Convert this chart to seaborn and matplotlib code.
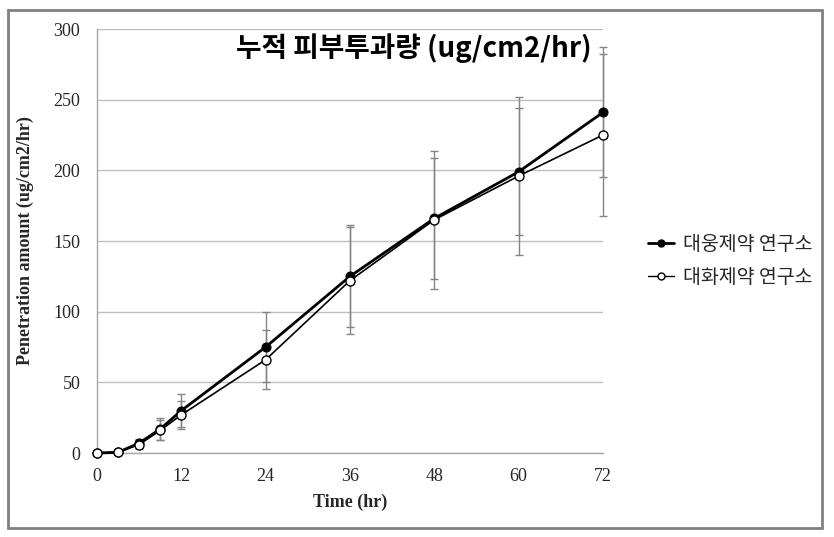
import matplotlib
matplotlib.use("Agg")
import matplotlib.pyplot as plt
import seaborn as sns
import pandas as pd
from matplotlib.patches import Rectangle
from matplotlib.lines import Line2D

# ---- data ----
time_hr = [0, 3, 6, 9, 12, 24, 36, 48, 60, 72]
series_names = ["대웅제약 연구소", "대화제약 연구소"]
daewoong = [0, 0.5, 7, 17, 30, 75, 125, 166, 199, 241]
daewoong_err = [0, 0, 3, 8, 11.5, 25, 36, 43, 45, 46]
daehwa = [0, 0.5, 6, 16, 27, 66, 122, 165, 196, 225]
daehwa_err = [0, 0, 3, 7, 10, 21, 38, 49, 56, 57]
x_ticks = [0, 12, 24, 36, 48, 60, 72]
y_ticks = [0, 50, 100, 150, 200, 250, 300]
title = "누적 피부투과량 (ug/cm2/hr)"
x_label = "Time (hr)"
y_label = "Penetration amount (ug/cm2/hr)"

df = pd.DataFrame({
    "time": time_hr * 2,
    "value": daewoong + daehwa,
    "err": daewoong_err + daehwa_err,
    "series": [series_names[0]] * len(time_hr) + [series_names[1]] * len(time_hr),
})

sns.set_theme(style="white")
plt.rcParams["font.family"] = ["Liberation Serif", "DejaVu Serif"]

W, H = 834, 537
fig = plt.figure(figsize=(W / 100, H / 100), dpi=100)
ax = fig.add_axes([97 / W, 1 - 453 / H, (603 - 97) / W, (453 - 29) / H])

# error bars
for name in series_names:
    sub = df[df["series"] == name]
    eb = ax.errorbar(sub["time"], sub["value"], yerr=sub["err"], fmt="none",
                     ecolor="#858585", elinewidth=1.0, capsize=3, capthick=1.0, zorder=2)
    for art in eb.get_children():
        art.set_clip_on(False)

d1 = df[df["series"] == series_names[0]]
d2 = df[df["series"] == series_names[1]]
sns.lineplot(data=d1, x="time", y="value", ax=ax, color="black", lw=2.0,
             marker="o", markersize=6.5, markerfacecolor="black",
             markeredgecolor="black", zorder=3, legend=False, clip_on=False)
sns.lineplot(data=d2, x="time", y="value", ax=ax, color="black", lw=1.2,
             marker="o", markersize=6.5, markerfacecolor="white",
             markeredgecolor="black", markeredgewidth=1.0, zorder=4, legend=False,
             clip_on=False)

ax.set_xlim(0, 72)
ax.set_ylim(0, 300)
ax.set_xticks(x_ticks)
ax.set_yticks(y_ticks)
ax.yaxis.grid(True, color="#bfbfbf", lw=1.0)
ax.xaxis.grid(False)
for s in ["top", "right"]:
    ax.spines[s].set_visible(False)
for s in ["left", "bottom"]:
    ax.spines[s].set_color("#a6a6a6")
    ax.spines[s].set_linewidth(1.0)
ax.tick_params(axis="both", which="major", length=3, width=1, color="#a6a6a6",
               labelsize=13, labelcolor="#262626", direction="out")
ax.tick_params(axis="y", pad=9)
ax.tick_params(axis="x", pad=8)
ax.set_axisbelow(True)

ax.set_xlabel(x_label, fontsize=13, fontweight="bold", color="#262626", labelpad=6)
ax.set_ylabel(y_label, fontsize=13, fontweight="bold", color="#262626", labelpad=14)

ax.text(0.627, 0.955, title, transform=ax.transAxes, ha="center", va="center",
        fontsize=20, fontweight="bold", color="black",
        family=["Noto Sans CJK KR", "DejaVu Sans"])

handles = [
    Line2D([], [], color="black", lw=2.0, marker="o", markersize=5,
           markerfacecolor="black", markeredgecolor="black"),
    Line2D([], [], color="black", lw=1.0, marker="o", markersize=5,
           markerfacecolor="white", markeredgecolor="black"),
]
leg = fig.legend(handles, series_names, loc="center left",
                 bbox_to_anchor=(630 / W, 1 - 261 / H), frameon=False,
                 handlelength=1.35, handletextpad=0.5, labelspacing=0.6,
                 prop={"family": ["Noto Sans CJK KR", "DejaVu Sans"], "size": 14})
for t in leg.get_texts():
    t.set_color("#262626")

fig.patches.append(Rectangle((8 / W, 1 - 528 / H), (822 - 8) / W, (528 - 10) / H,
                             transform=fig.transFigure, fill=False,
                             edgecolor="#808080", lw=2.0, zorder=10))

fig.savefig("out.png", dpi=100)
